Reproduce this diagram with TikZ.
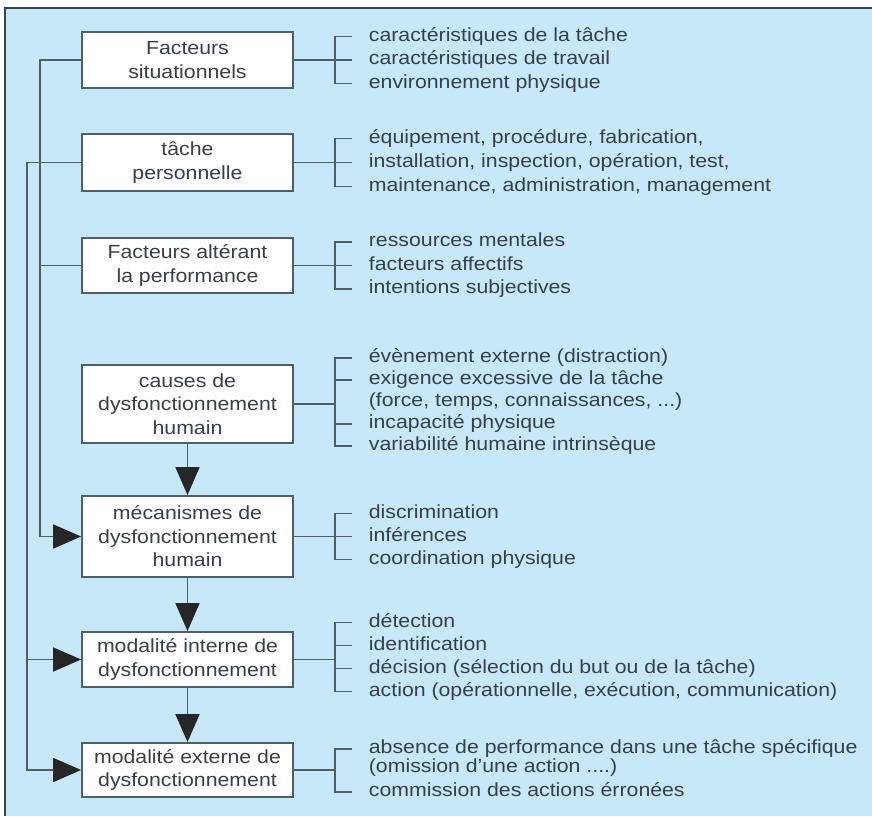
\documentclass[tikz,border=0pt]{standalone}
\usepackage{fontspec}
\setmainfont{Liberation Sans}[FakeStretch=1.12]
\usetikzlibrary{arrows.meta}

\definecolor{fond}{RGB}{198,232,249}
\definecolor{cadre}{RGB}{58,66,74}
\definecolor{trait}{RGB}{80,94,104}
\definecolor{texte}{RGB}{55,64,74}
\definecolor{pointe}{RGB}{38,38,38}

\tikzset{
	boite/.style={draw=trait, fill=white, minimum width=211pt, align=center, inner sep=0pt, text=texte},
	item/.style={anchor=west, inner sep=0pt, text height=13.5pt, text depth=4pt, text=texte},
	fleche/.style={-{Triangle[length=28pt,width=24pt,color=pointe,fill=pointe]}}
}

\begin{document}
\begin{tikzpicture}[x=1pt, y=-1pt, line width=1.8pt, color=trait, font=\fontsize{19}{23.5}\selectfont]
	\useasboundingbox (0,0) rectangle (872,816);
	\fill[fond] (5,8) rectangle (872,816);
	\draw[cadre, line width=2.2pt] (872,8) -- (5,8) -- (5,816);

	\node[boite, minimum height=56pt] (fs) at (187.5,60) {Facteurs\\situationnels};
	\node[boite, minimum height=57pt] (tp) at (187.5,162.5) {tâche\\personnelle};
	\node[boite, minimum height=55pt] (fa) at (187.5,265.5) {Facteurs altérant\\la performance};
	\node[boite, minimum height=78pt] (cd) at (187.5,404) {causes de\\dysfonctionnement\\humain};
	\node[boite, minimum height=81pt] (md) at (187.5,536.5) {mécanismes de\\dysfonctionnement\\humain};
	\node[boite, minimum height=55pt] (mi) at (187.5,659.5) {modalité interne de\\dysfonctionnement};
	\node[boite, minimum height=54pt] (me) at (187.5,770) {modalité externe de\\dysfonctionnement};

	\coordinate (rail1) at (40,0);
	\coordinate (rail2) at (27,0);
	\coordinate (acc) at (335,0);

	\draw[fleche] (fs.west) -- (fs.west -| rail1) |- (md.west);
	\draw (fa.west) -- (fa.west -| rail1);
	\draw[fleche] (tp.west) -- (tp.west -| rail2) |- (me.west);
	\draw[fleche] (mi.west -| rail2) -- (mi.west);

	\draw[fleche] (cd.south) -- (md.north);
	\draw[fleche] (md.south) -- (mi.north);
	\draw[fleche] (mi.south) -- (me.north);

	\foreach \t [count=\i] in {caractéristiques de la tâche, caractéristiques de travail, environnement physique}
		\node[item] (fs\i) at (368,{36.5+23.5*(\i-1)}) {\t};
	\foreach \t [count=\i] in {{équipement, procédure, fabrication,}, {installation, inspection, opération, test,}, {maintenance, administration, management}}
		\node[item] (tp\i) at (368,{138.5+24*(\i-1)}) {\t};
	\foreach \t [count=\i] in {ressources mentales, facteurs affectifs, intentions subjectives}
		\node[item] (fa\i) at (368,{242+23.5*(\i-1)}) {\t};
	\node[item] (cd1) at (368,358) {évènement externe (distraction)};
	\node[item] (cd2) at (368,380) {exigence excessive de la tâche};
	\node[item] (cd3) at (368,402) {(force, temps, connaissances, ...)};
	\node[item] (cd4) at (368,424) {incapacité physique};
	\node[item] (cd5) at (368,446) {variabilité humaine intrinsèque};
	\foreach \t [count=\i] in {discrimination, inférences, coordination physique}
		\node[item] (md\i) at (368,{513.5+23*(\i-1)}) {\t};
	\foreach \t [count=\i] in {détection, identification, décision (sélection du but ou de la tâche), {action (opérationnelle, exécution, communication)}}
		\node[item] (mi\i) at (368,{622.5+23*(\i-1)}) {\t};
	\node[item] (me1) at (368,749) {absence de performance dans une tâche spécifique};
	\node[item] (me2) at (368,768) {(omission d’une action ....)};
	\node[item] (me3) at (368,792) {commission des actions érronées};

	\draw ([xshift=-16pt]fs1.west) -- (fs1.west -| acc) |- ([xshift=-16pt]fs3.west);
	\draw (fs.east) -- ([xshift=-16pt]fs2.west);
	\draw ([xshift=-16pt]tp1.west) -- (tp1.west -| acc) |- ([xshift=-16pt]tp3.west);
	\draw (tp.east) -- ([xshift=-16pt]tp2.west);
	\draw ([xshift=-16pt]fa1.west) -- (fa1.west -| acc) |- ([xshift=-16pt]fa3.west);
	\draw (fa.east) -- ([xshift=-16pt]fa2.west);

	\draw ([xshift=-16pt]cd1.west) -- (cd1.west -| acc) |- ([xshift=-16pt]cd5.west);
	\draw (cd2.west -| acc) -- ([xshift=-16pt]cd2.west);
	\draw (cd4.west -| acc) -- ([xshift=-16pt]cd4.west);
	\draw (cd.east) -- (cd.east -| acc);

	\draw ([xshift=-16pt]md1.west) -- (md1.west -| acc) |- ([xshift=-16pt]md3.west);
	\draw (md.east) -- ([xshift=-16pt]md2.west);

	\draw ([xshift=-16pt]mi1.west) -- (mi1.west -| acc) |- ([xshift=-16pt]mi4.west);
	\draw (mi2.west -| acc) -- ([xshift=-16pt]mi2.west);
	\draw (mi3.west -| acc) -- ([xshift=-16pt]mi3.west);
	\draw (mi.east) -- (mi.east -| acc);

	\draw ([xshift=-16pt]me1.west) -- (me1.west -| acc) |- ([xshift=-16pt]me3.west);
	\draw (me.east) -- (me.east -| acc);
\end{tikzpicture}
\end{document}
